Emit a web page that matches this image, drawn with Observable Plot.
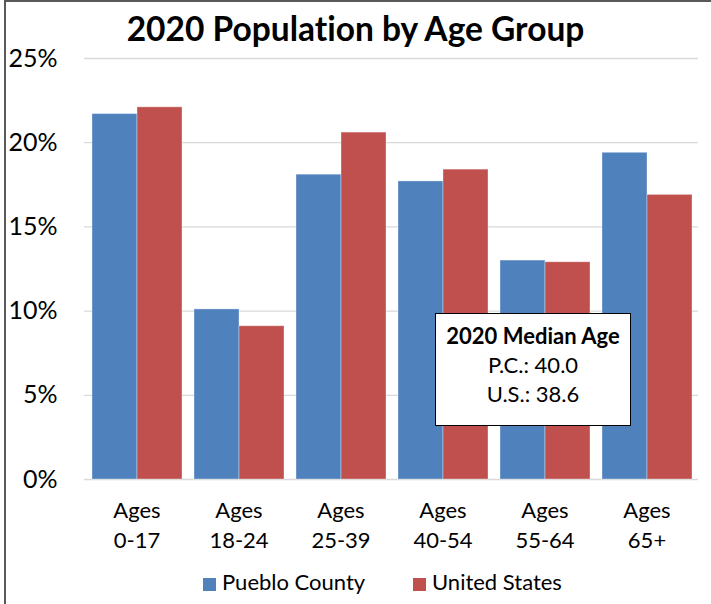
<!DOCTYPE html>
<html>
<head>
<meta charset="utf-8">
<script src="https://cdn.jsdelivr.net/npm/d3@7"></script>
<script src="https://cdn.jsdelivr.net/npm/@observablehq/plot@0.6"></script>
<style>
  html, body { margin: 0; padding: 0; background: #fff; }
  #chart {
    position: relative; height: 604px; box-sizing: border-box;
    border-top: 2px solid #595959; border-left: 2px solid #595959;
    margin-left: 4px; width: 707px;
    font-family: Lato, "Open Sans", sans-serif; color: #000; overflow: hidden;
    font-variant-ligatures: none;
  }
  #chart svg { position: absolute; left: -6px; top: -2px; max-width: none; font-variant-ligatures: none; }
  #title {
    position: absolute; left: 0; right: 0; top: 6px; text-align: center;
    font-size: 33.5px; font-weight: bold; transform: translateX(-3px); z-index: 3;
  }
  #median {
    position: absolute; left: 429px; top: 311px; width: 196px; height: 113px;
    border: 1.5px solid #000; background: #fff; text-align: center;
    font-size: 22px; line-height: 29px; padding-top: 7px; box-sizing: border-box; z-index: 3;
  }
  #legend {
    position: absolute; left: 0; top: 566px; width: 100%; font-size: 22px; z-index: 3;
  }
  .key { position: absolute; top: 0; white-space: nowrap; }
  .swatch { display: inline-block; width: 13px; height: 13px; margin-right: 6px; vertical-align: -1px; }
</style>
</head>
<body>
<div id="chart">
  <div id="title">2020 Population by Age Group</div>
</div>
<script>
// Age groups and the share of population (%) in each one
const ageGroups = ["Ages 0-17", "Ages 18-24", "Ages 25-39", "Ages 40-54", "Ages 55-64", "Ages 65+"];
const seriesNames = ["Pueblo County", "United States"];
const puebloCounty = [21.7, 10.1, 18.1, 17.7, 13.0, 19.4];
const unitedStates = [22.1, 9.1, 20.6, 18.4, 12.9, 16.9];
const seriesColors = ["#4F81BD", "#C0504D"];
const yTicks = [0, 5, 10, 15, 20, 25];
const medianTitle = "2020 Median Age";
const medianLabels = ["P.C.", "U.S."];
const medianAges = [40.0, 38.6];

const rows = [];
ageGroups.forEach((age, i) => {
  rows.push({age, series: seriesNames[0], value: puebloCounty[i]});
  rows.push({age, series: seriesNames[1], value: unitedStates[i]});
});

// Shared frame so the grid layer and the bar layer line up exactly
const frame = {
  width: 711,
  height: 604,
  marginLeft: 84,
  marginRight: 13,
  marginTop: 58,
  marginBottom: 125,
  style: {fontFamily: "Lato, 'Open Sans', sans-serif", color: "#000", background: "transparent", overflow: "visible"}
};

// Back layer: continuous gridlines and the percentage axis
const gridLayer = Plot.plot({
  ...frame,
  y: {domain: [0, 25], label: null},
  marks: [
    Plot.ruleY(yTicks, {stroke: "#d9d9d9", strokeWidth: 1.3}),
    Plot.axisY({ticks: yTicks, tickSize: 0, tickPadding: 27, fontSize: 25,
      tickFormat: d => d + "%", label: null})
  ]
});

// Front layer: grouped bars faceted by age group
const barLayer = Plot.plot({
  ...frame,
  y: {domain: [0, 25], axis: null},
  fx: {domain: ageGroups, paddingInner: 0.112, paddingOuter: 0.056, label: null},
  x: {domain: seriesNames, padding: 0, axis: null},
  color: {domain: seriesNames, range: seriesColors},
  marks: [
    Plot.barY(rows, {fx: "age", x: "series", y: "value", fill: "series",
      stroke: "#ffffff", strokeOpacity: 0.35, strokeWidth: 1}),
    Plot.axisFx({anchor: "bottom", tickSize: 0, tickPadding: 17, fontSize: 22,
      lineHeight: 1.36, tickFormat: d => d.replace(" ", "\n"), label: null})
  ]
});

const chart = document.getElementById("chart");
chart.appendChild(gridLayer);
chart.appendChild(barLayer);

// Median age box
const box = document.createElement("div");
box.id = "median";
box.innerHTML = `<b>${medianTitle}</b><br>` +
  medianLabels.map((l, i) => `${l}: ${medianAges[i].toFixed(1)}`).join("<br>");
chart.appendChild(box);

// Legend
const legend = document.createElement("div");
legend.id = "legend";
const keyLeft = [197, 407];
seriesNames.forEach((name, i) => {
  const k = document.createElement("span");
  k.className = "key";
  k.style.left = keyLeft[i] + "px";
  k.innerHTML = `<span class="swatch" style="background:${seriesColors[i]}"></span>${name}`;
  legend.appendChild(k);
});
chart.appendChild(legend);
</script>
</body>
</html>
